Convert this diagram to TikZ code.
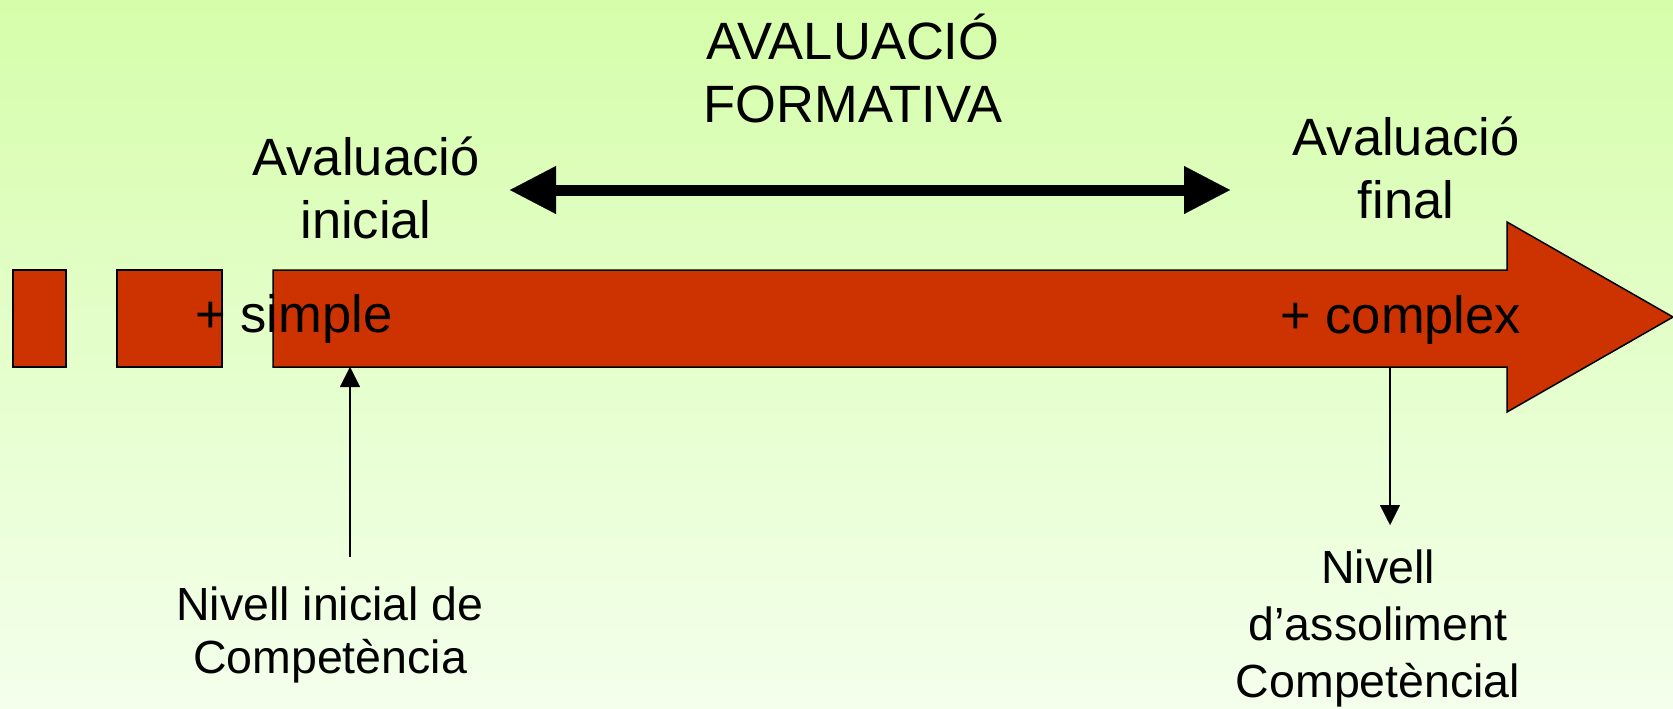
\documentclass[tikz,border=0pt]{standalone}
\usepackage{fontspec}
\setmainfont{Liberation Sans}
\usetikzlibrary{arrows.meta}
\definecolor{bgtop}{RGB}{213,254,170}
\definecolor{bgbot}{RGB}{244,255,236}
\definecolor{arrowred}{RGB}{204,51,0}
\tikzset{
  bigtxt/.style={font=\fontsize{26.25pt}{31.5pt}\selectfont, inner sep=0pt, align=center},
  smalltxt/.style={font=\fontsize{23.25pt}{28.5pt}\selectfont, inner sep=0pt, align=center},
  redbox/.style={fill=arrowred, draw=black, line width=0.75pt, line join=miter},
  thinarrow/.style={line width=1pt, -{Triangle[length=10pt,width=10pt,line width=0.1pt]}},
  bigdouble/.style={line width=5.5pt, {Triangle[length=23pt,width=24pt,line width=0.1pt]}-{Triangle[length=23pt,width=24pt,line width=0.1pt]}}
}
\begin{document}
\begin{tikzpicture}[x=0.5pt,y=-0.5pt]
  \useasboundingbox (0,0) rectangle (1673,708);
  \shade[top color=bgtop, bottom color=bgbot] (0,0) rectangle (1673,708);
  % blocks
  \node[redbox, anchor=north west, minimum width=26.5pt, minimum height=48.5pt, inner sep=0pt, outer sep=0pt] (b1) at (13,270) {};
  \node[redbox, anchor=north west, minimum width=52.5pt, minimum height=48.5pt, inner sep=0pt, outer sep=0pt] (b2) at (117,270) {};
  % big arrow
  \coordinate (aL) at (273,270);
  \coordinate (aTip) at (1673,317);
  \draw[redbox] (aL) -- (1507,270) -- (1507,222) -- (aTip) -- (1507,412) -- (1507,367) -- (273,367) -- cycle;
  \coordinate (upT) at (350,367);
  \coordinate (upS) at (350,557);
  \coordinate (dnS) at (1390,367);
  \coordinate (dnT) at (1390,525);
  % texts (anchor=base gives the baseline of the last line)
  \node[bigtxt, anchor=base] (title) at (853,122) {AVALUACIÓ\\FORMATIVA};
  \node[bigtxt, anchor=base] (evI) at (366,238) {Avaluació\\inicial};
  \node[bigtxt, anchor=base] (evF) at (1406,218) {Avaluació\\final};
  \node[bigtxt, anchor=base west] (simple) at (195,332) {+ simple};
  \node[bigtxt, anchor=base west] (complex) at (1280,333) {+ complex};
  \node[smalltxt, anchor=base, font=\fontsize{23.25pt}{26.5pt}\selectfont] (nivI) at (330,673) {Nivell inicial de\\Competència};
  \node[smalltxt, anchor=base] (nivF) at (1378,697) {Nivell\\d’assoliment\\Competèncial};
  % double arrow
  \coordinate (dl) at (510,190);
  \coordinate (dr) at (1230,190);
  \draw[bigdouble] (dl) -- (dr);
  % thin arrows
  \draw[thinarrow] (upS) -- (upT);
  \draw[thinarrow] (dnS) -- (dnT);
\end{tikzpicture}
\end{document}
